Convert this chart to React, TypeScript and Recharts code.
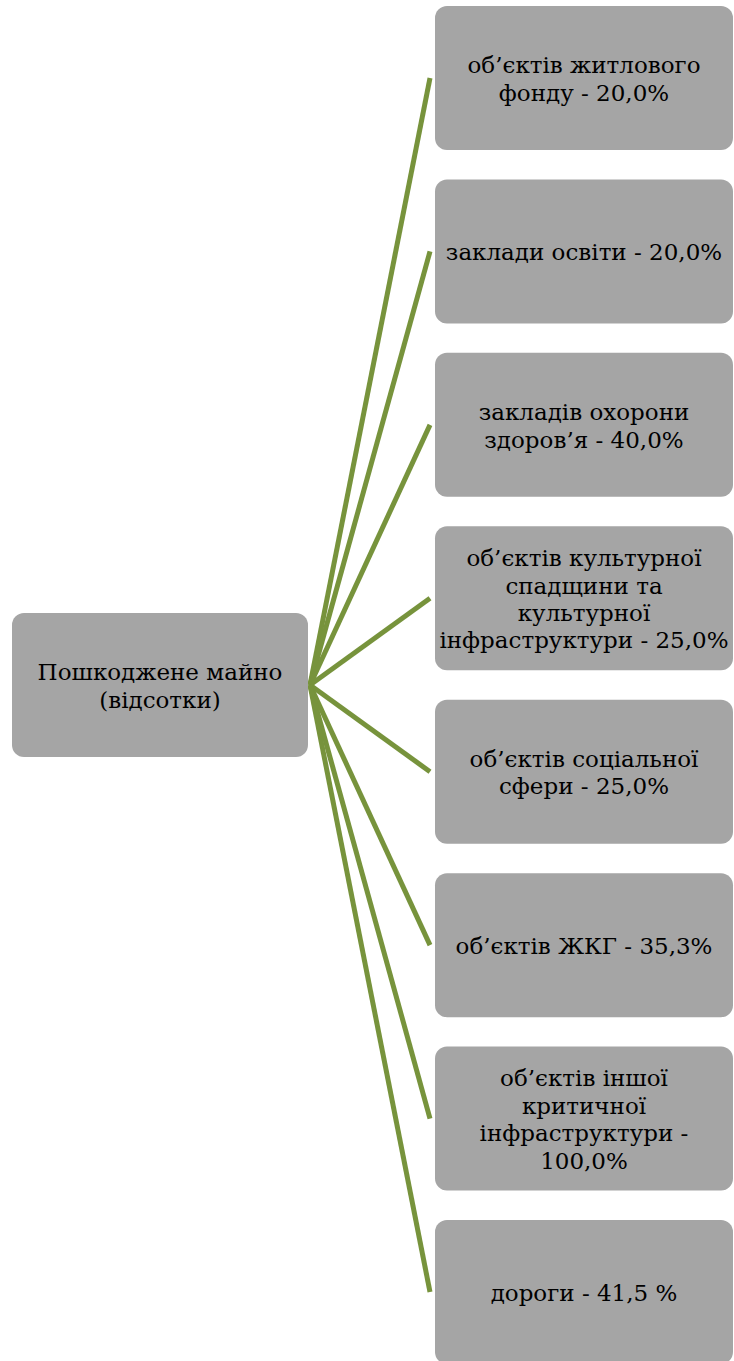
import React from 'react';
import { ScatterChart, Scatter, XAxis, YAxis, ReferenceLine } from 'recharts';

// ---- data ----
const rootLines: string[] = ['Пошкоджене майно', '(відсотки)'];

const categoryLines: string[][] = [
  ['об’єктів житлового', 'фонду - 20,0%'],
  ['заклади освіти - 20,0%'],
  ['закладів охорони', 'здоров’я - 40,0%'],
  ['об’єктів культурної', 'спадщини та', 'культурної', 'інфраструктури - 25,0%'],
  ['об’єктів соціальної', 'сфери - 25,0%'],
  ['об’єктів ЖКГ - 35,3%'],
  ['об’єктів іншої', 'критичної', 'інфраструктури -', '100,0%'],
  ['дороги - 41,5 %'],
];

// ---- layout / style ----
const W = 734;
const H = 1361;
const ROOT_X = 160;
const CHILD_X = 584;
const X_SPAN = CHILD_X - ROOT_X;
const ROOT_HALF_W = 148;
const CHILD_HALF_W = 149;
const HALF_H = 72;
const BOX_FILL = '#A5A5A5';
const LINE_COLOR = '#77933C';
const FONT = '"DejaVu Serif", serif';
const FONT_SIZE = 23;
const LINE_H = 27.4;

const lastIndex = categoryLines.length - 1;
const rootData = [{ x: 0, y: lastIndex / 2, lines: rootLines }];
const childData = categoryLines.map((lines, i) => ({ x: 1, y: i, lines }));

const rootEdge = (ROOT_HALF_W + 2) / X_SPAN;
const childEdge = 1 - (CHILD_HALF_W + 5) / X_SPAN;

const makeBox = (halfW: number) => (props: any) => {
  const { cx, cy, payload } = props;
  const lines: string[] = payload.lines;
  const n = lines.length;
  return (
    <g>
      <rect
        x={cx - halfW}
        y={cy - HALF_H}
        width={halfW * 2}
        height={HALF_H * 2}
        rx={12}
        ry={12}
        fill={BOX_FILL}
      />
      <text
        textAnchor="middle"
        fontFamily={FONT}
        fontSize={FONT_SIZE}
        fill="#000"
      >
        {lines.map((t, i) => (
          <tspan key={i} x={cx} y={cy + (i - (n - 1) / 2) * LINE_H + 9}>
            {t}
          </tspan>
        ))}
      </text>
    </g>
  );
};

export default function App() {
  return (
    <div style={{ position: 'absolute', left: 0, top: 0, width: W, height: H, background: '#fff' }}>
      <ScatterChart
        width={W}
        height={H}
        margin={{ top: 78, bottom: H - 1292, left: ROOT_X, right: W - CHILD_X }}
      >
        <XAxis type="number" dataKey="x" domain={[0, 1]} hide />
        <YAxis type="number" dataKey="y" domain={[0, lastIndex]} reversed hide width={0} />
        {childData.map((d, i) => (
          <ReferenceLine
            key={i}
            segment={[
              { x: rootEdge, y: rootData[0].y },
              { x: childEdge, y: d.y },
            ]}
            stroke={LINE_COLOR}
            strokeWidth={5}
            ifOverflow="visible"
          />
        ))}
        <Scatter data={rootData} shape={makeBox(ROOT_HALF_W)} isAnimationActive={false} />
        <Scatter data={childData} shape={makeBox(CHILD_HALF_W)} isAnimationActive={false} />
      </ScatterChart>
    </div>
  );
}
